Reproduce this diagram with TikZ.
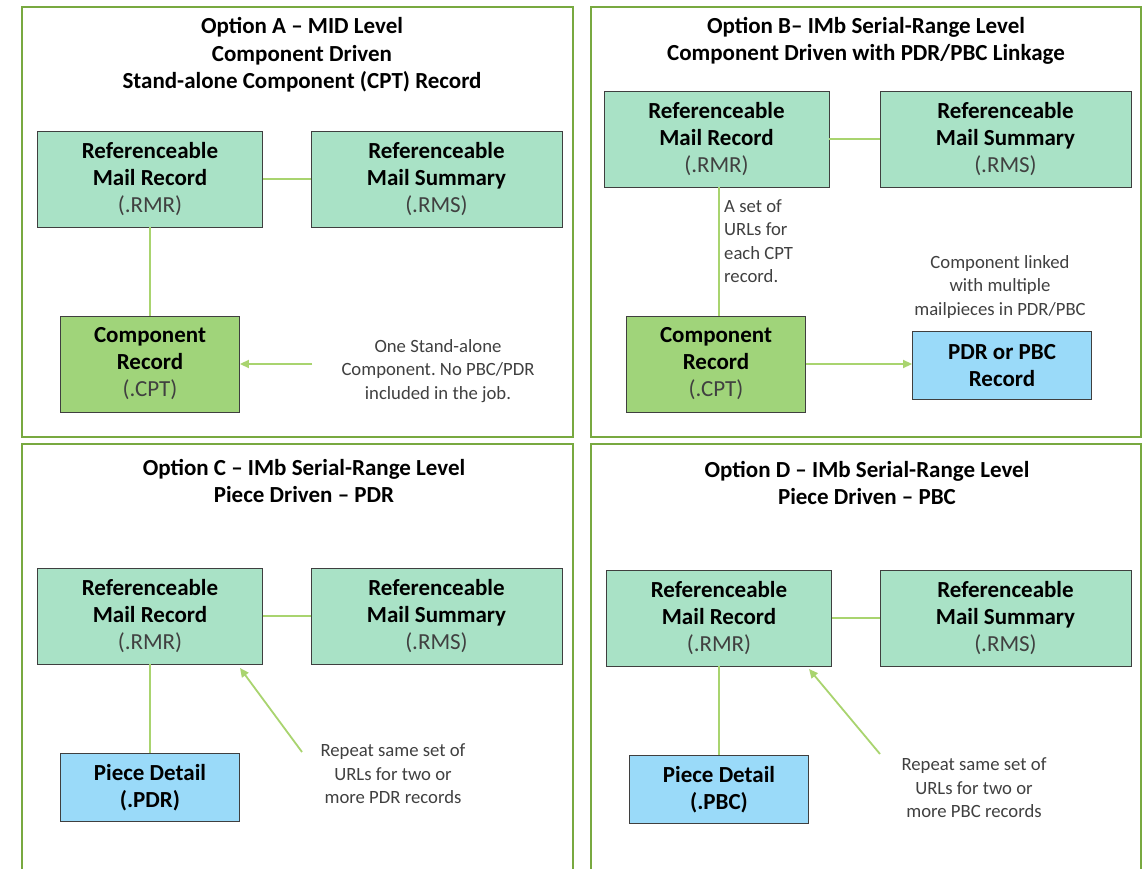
\documentclass[tikz,border=0pt]{standalone}
\usepackage{fontspec}
\setmainfont{Carlito}
\frenchspacing
\usetikzlibrary{arrows.meta}
\definecolor{panelgreen}{HTML}{78A940}
\definecolor{rmrfill}{HTML}{A9E2C6}
\definecolor{cptfill}{HTML}{A0D47A}
\definecolor{bluefill}{HTML}{9ADAF9}
\definecolor{linkgreen}{HTML}{A9D46F}
\definecolor{boxedge}{HTML}{3F3F3F}
\definecolor{greytext}{HTML}{404040}
\begin{document}
\begin{tikzpicture}[x=1pt,y=-1pt,
  panel/.style={draw=panelgreen,line width=2pt},
  rec/.style={draw=boxedge,line width=0.9pt,inner sep=0pt,align=center,
    font=\fontsize{23}{27}\selectfont\bfseries},
  rmrbox/.style={rec,fill=rmrfill,minimum width=225pt,minimum height=96pt},
  rmsbox/.style={rec,fill=rmrfill,minimum width=251pt,minimum height=96pt},
  cptbox/.style={rec,fill=cptfill,minimum width=179pt,minimum height=96pt},
  bluebox/.style={rec,fill=bluefill,minimum width=179pt,minimum height=68pt},
  title/.style={align=center,inner sep=0pt,font=\fontsize{23}{27.5}\selectfont\bfseries},
  note/.style={align=center,inner sep=0pt,text=greytext,font=\fontsize{18.7}{23.5}\selectfont},
  link/.style={draw=linkgreen,line width=1.8pt},
  arr/.style={link,-{Triangle[length=9pt,width=8pt]}}
]
\useasboundingbox (0,0) rectangle (1143,869);
\fill[white] (0,0) rectangle (1143,869);
\clip (0,0) rectangle (1143,869);

% panels
\draw[panel] (22,7) rectangle (573,437);
\draw[panel] (591,7) rectangle (1141,437);
\draw[panel] (22,444) rectangle (573,890);
\draw[panel] (591,444) rectangle (1141,890);

% ---------- Option A ----------
\node[title] (aT) at (302,55) {Option A – MID Level\\Component Driven\\Stand-alone Component (CPT) Record};
\node[rmrbox] (aRMR) at (150,179) {Referenceable\\Mail Record\\{\mdseries\color{greytext}(.RMR)}};
\node[rmsbox] (aRMS) at (436.5,179) {Referenceable\\Mail Summary\\{\mdseries\color{greytext}(.RMS)}};
\node[cptbox] (aCPT) at (150,364) {Component\\Record\\{\mdseries\color{greytext}(.CPT)}};
\node[note] (aN) at (438,371) {One Stand-alone\\Component. No PBC/PDR\\included in the job.};
\coordinate (aS) at (312,364);
\draw[link] (aRMR) -- (aRMS);
\draw[link] (aRMR.south -| aCPT.north) -- (aCPT.north);
\draw[arr] (aS) -- (aCPT.east);

% ---------- Option B ----------
\node[title] (bT) at (866,41) {Option B– IMb Serial-Range Level\\Component Driven with PDR/PBC Linkage};
\node[rmrbox] (bRMR) at (716.5,139) {Referenceable\\Mail Record\\{\mdseries\color{greytext}(.RMR)}};
\node[rmsbox] (bRMS) at (1005.5,139) {Referenceable\\Mail Summary\\{\mdseries\color{greytext}(.RMS)}};
\node[cptbox] (bCPT) at (716,364) {Component\\Record\\{\mdseries\color{greytext}(.CPT)}};
\node[bluebox] (bPDR) at (1002,365.5) {PDR or PBC\\Record};
\node[note,align=left,anchor=north west] (bN1) at (724,199) {A set of\\URLs for\\each CPT\\record.};
\node[note] (bN2) at (1000,287) {Component linked\\with multiple\\mailpieces in PDR/PBC};
\coordinate (bL) at (719,0);
\draw[link] (bRMR) -- (bRMS);
\draw[link] (bRMR.south -| bL) -- (bCPT.north -| bL);
\draw[arr] (bCPT.east) -- (bCPT.east -| bPDR.west);

% ---------- Option C ----------
\node[title] (cT) at (304,481) {Option C – IMb Serial-Range Level\\Piece Driven – PDR};
\node[rmrbox] (cRMR) at (150,616) {Referenceable\\Mail Record\\{\mdseries\color{greytext}(.RMR)}};
\node[rmsbox] (cRMS) at (436.5,616) {Referenceable\\Mail Summary\\{\mdseries\color{greytext}(.RMS)}};
\node[bluebox] (cPD) at (150,787.5) {Piece Detail\\(.PDR)};
\node[note] (cN) at (393,774) {Repeat same set of\\URLs for two or\\more PDR records};
\coordinate (cS) at (302,752);
\coordinate (cE) at (240,668);
\draw[link] (cRMR) -- (cRMS);
\draw[link] (cRMR.south -| cPD.north) -- (cPD.north);
\draw[arr] (cS) -- (cE);

% ---------- Option D ----------
\node[title] (dT) at (867,483) {Option D – IMb Serial-Range Level\\Piece Driven – PBC};
\node[rmrbox] (dRMR) at (719,618) {Referenceable\\Mail Record\\{\mdseries\color{greytext}(.RMR)}};
\node[rmsbox] (dRMS) at (1005.5,618) {Referenceable\\Mail Summary\\{\mdseries\color{greytext}(.RMS)}};
\node[bluebox] (dPD) at (719,789.5) {Piece Detail\\(.PBC)};
\node[note] (dN) at (974,788) {Repeat same set of\\URLs for two or\\more PBC records};
\coordinate (dS) at (880,754);
\coordinate (dE) at (809,669);
\draw[link] (dRMR) -- (dRMS);
\draw[link] (dRMR.south -| dPD.north) -- (dPD.north);
\draw[arr] (dS) -- (dE);
\end{tikzpicture}
\end{document}
